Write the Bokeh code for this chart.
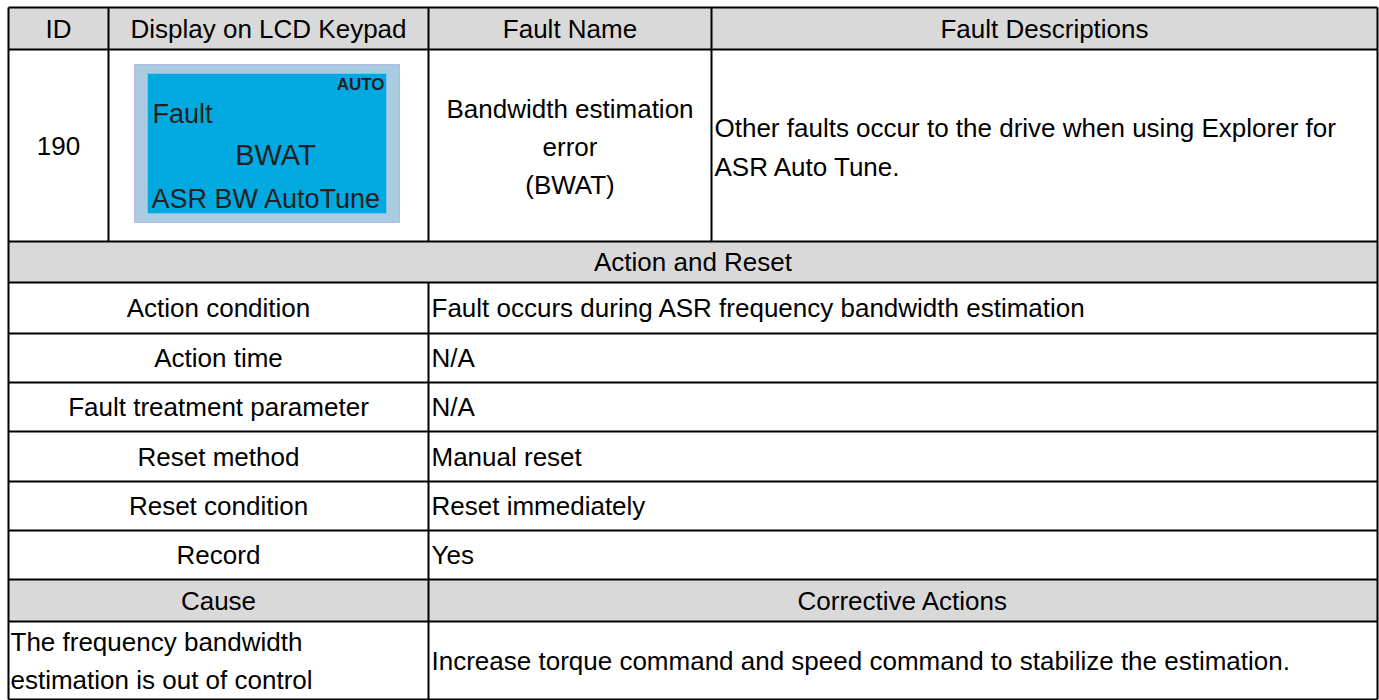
from bokeh.plotting import figure
from bokeh.models import Range1d
from bokeh.core.properties import value
from bokeh.embed import file_html
from bokeh.resources import INLINE

# ---------------- content ----------------
header_labels = ["ID", "Display on LCD Keypad", "Fault Name", "Fault Descriptions"]
fault_id = "190"
lcd_status = "AUTO"
lcd_lines = ["Fault", "BWAT", "ASR BW AutoTune"]
fault_name_lines = ["Bandwidth estimation", "error", "(BWAT)"]
description_lines = ["Other faults occur to the drive when using Explorer for", "ASR Auto Tune."]
section_title = "Action and Reset"
action_labels = ["Action condition", "Action time", "Fault treatment parameter",
                 "Reset method", "Reset condition", "Record"]
action_values = ["Fault occurs during ASR frequency bandwidth estimation", "N/A", "N/A",
                 "Manual reset", "Reset immediately", "Yes"]
cause_header = ["Cause", "Corrective Actions"]
cause_lines = ["The frequency bandwidth", "estimation is out of control"]
corrective_text = "Increase torque command and speed command to stabilize the estimation."

# ---------------- layout (image pixel coordinates) ----------------
X_LEFT, X_RIGHT = 8, 1377
col_top = [8, 108, 428, 711, 1377]
col_mid = 428
y_top, y_head, y_r1, y_sec = 7, 49, 241, 282
action_rows = [282, 333, 382, 431, 481, 530, 579]
y_cause_head, y_bottom = 621, 699

FONT = value("Liberation Sans")
FS = "26px"
BLACK = "#000000"
GREY = "#D9D9D9"

p = figure(width=1379, height=700, output_backend="svg", toolbar_location=None,
           x_range=Range1d(0, 1379), y_range=Range1d(700, 0),
           min_border=0, outline_line_color=None)
p.axis.visible = False
p.grid.visible = False
p.background_fill_color = "white"
p.border_fill_color = "white"

# grey header bands
p.quad(left=[X_LEFT, X_LEFT, X_LEFT], right=[X_RIGHT] * 3,
       top=[y_top, y_r1, action_rows[-1]], bottom=[y_head, y_sec, y_cause_head],
       fill_color=GREY, line_color=None)

# LCD display
p.quad(left=[134], right=[399], top=[64], bottom=[222], fill_color="#A9CCE0",
       line_color="#B8B8E8", line_width=1)
p.quad(left=[147], right=[386], top=[73], bottom=[213], fill_color="#00A9E0",
       line_color="#7CC4EA", line_width=1)

# horizontal lines
hy = [y_top, y_head, y_r1, y_sec] + action_rows[1:] + [y_cause_head, y_bottom]
p.segment(x0=[X_LEFT] * len(hy), x1=[X_RIGHT] * len(hy), y0=hy, y1=hy,
          line_color=BLACK, line_width=2)
# vertical lines
vx0 = [X_LEFT, col_top[1], col_top[2], col_top[3], X_RIGHT, col_mid, col_mid]
vy0 = [y_top, y_top, y_top, y_top, y_top, y_sec, action_rows[-1]]
vy1 = [y_bottom, y_r1, y_r1, y_r1, y_bottom, action_rows[-1], y_bottom]
p.segment(x0=vx0, x1=vx0, y0=vy0, y1=vy1, line_color=BLACK, line_width=2)

def txt(xs, ys, texts, align="center", size=FS, color=BLACK, style="normal", baseline="middle"):
    p.text(x=xs, y=ys, text=texts, text_align=align, text_baseline=baseline,
           text_font=FONT, text_font_size=size, text_color=color, text_font_style=style)

# header texts
hx = [(col_top[i] + col_top[i + 1]) / 2 for i in range(4)]
txt(hx, [(y_top + y_head) / 2] * 4, header_labels)

# row 1
txt([hx[0]], [(y_head + y_r1) / 2], [fault_id])
txt([hx[2]] * 3, [108, 146, 184], fault_name_lines)
txt([714] * 2, [127, 166], description_lines, align="left")

# LCD text
LCD_C = "#231F20"
txt([384], [84], [lcd_status], align="right", size="17px", color=LCD_C, style="bold")
txt([152], [113], [lcd_lines[0]], align="left", size="27px", color=LCD_C)
txt([275], [154], [lcd_lines[1]], align="center", size="29px", color=LCD_C)
txt([266], [198], [lcd_lines[2]], align="center", size="27px", color=LCD_C)

# section title
txt([(X_LEFT + X_RIGHT) / 2], [(y_r1 + y_sec) / 2], [section_title])

# action rows
amid = [(action_rows[i] + action_rows[i + 1]) / 2 for i in range(6)]
txt([(X_LEFT + col_mid) / 2] * 6, amid, action_labels)
txt([431] * 6, amid, action_values, align="left")

# cause header
txt([(X_LEFT + col_mid) / 2, (col_mid + X_RIGHT) / 2], [(action_rows[-1] + y_cause_head) / 2] * 2,
    cause_header)
txt([10, 10], [641, 679], cause_lines, align="left")
txt([431], [(y_cause_head + y_bottom) / 2], [corrective_text], align="left")

open("out.html", "w").write(file_html(p, INLINE))
